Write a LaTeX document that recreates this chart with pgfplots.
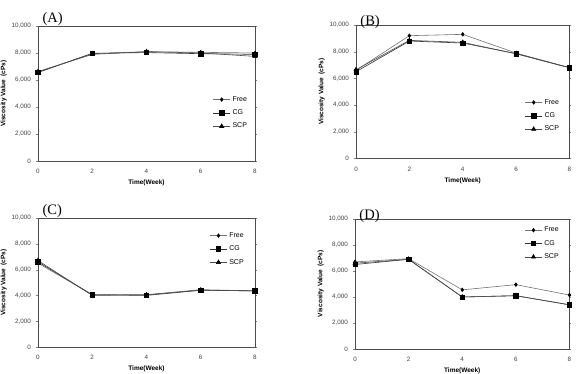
\documentclass[border=0pt]{standalone}
\usepackage{pgfplots}
\pgfplotsset{compat=1.18}
\usepackage{fontspec}
\setmainfont{Liberation Sans}
\newfontfamily\serifpanel{Liberation Serif}
\pgfplotsset{
  panel/.style={
    scale only axis, anchor=north west,
    xmin=0, xmax=8, ymin=0, ymax=10000,
    xtick={0,2,4,6,8}, ytick={0,2000,4000,6000,8000,10000},
    scaled y ticks=false,
    /pgf/number format/.cd, 1000 sep={,}, assume math mode=true, /pgfplots/.cd,
    tick label style={font=\fontsize{6.3}{7}\selectfont, text=black!75},
    xticklabel style={yshift=-3pt},
    yticklabel style={xshift=-1.5pt},
    tick align=outside, major tick length=2pt,
    xtick style={draw=none},
    axis line style={black!70, line width=0.6pt},
    xlabel={\textbf{Time(Week)}},
    ylabel={\textbf{Viscosity Value\enspace(cPs)}},
    label style={font=\fontsize{6.5}{7}\selectfont},
    xlabel style={yshift=1pt},
    ylabel style={yshift=-2pt},
    clip=false,
    legend cell align=left,
    legend style={draw=none, fill=none, font=\fontsize{7}{7}\selectfont, row sep=3pt, inner sep=0pt},
    free/.style={color=black!55, line width=0.6pt, mark=diamond*, mark size=1.8pt, mark options={fill=black, draw=black}},
    cg/.style={color=black!80, line width=0.6pt, mark=square*, mark size=2.2pt, mark options={fill=black, draw=black}},
    scp/.style={color=black!70, line width=0.6pt, mark=triangle*, mark size=2.4pt, mark options={fill=black, draw=black}},
  }
}
\begin{document}
\begin{tikzpicture}
\path[use as bounding box] (0pt,0pt) rectangle (576pt,-373pt);
% (A)
\begin{axis}[panel, at={(38pt,-26pt)}, width=217pt, height=135pt,
  legend style={at={(0.805,0.495)}, anchor=north west}]
\addplot[free] coordinates {(0,6600) (2,7950) (4,8100) (6,8050) (8,8000)};
\addplot[cg] coordinates {(0,6550) (2,7980) (4,8030) (6,7950) (8,7900)};
\addplot[scp] coordinates {(0,6620) (2,7900) (4,8100) (6,8000) (8,7750)};
\legend{Free,CG,SCP}
\node[font=\serifpanel\fontsize{14.5}{14}\selectfont, anchor=south west, inner sep=0pt] at (rel axis cs:0.02,1.0) {(A)};
\end{axis}
% (B)
\begin{axis}[panel, at={(356pt,-25pt)}, width=213.5pt, height=133.5pt,
  legend style={at={(0.79,0.46)}, anchor=north west}]
\addplot[free] coordinates {(0,6600) (2,9200) (4,9300) (6,7900) (8,6800)};
\addplot[cg] coordinates {(0,6500) (2,8800) (4,8650) (6,7850) (8,6800)};
\addplot[scp] coordinates {(0,6650) (2,8850) (4,8700) (6,7850) (8,6800)};
\legend{Free,CG,SCP}
\node[font=\serifpanel\fontsize{14.5}{14}\selectfont, anchor=south west, inner sep=0pt] at (rel axis cs:0.02,0.97) {(B)};
\end{axis}
% (C)
\begin{axis}[panel, at={(38pt,-218pt)}, width=217pt, height=129pt,
  legend style={at={(0.79,0.905)}, anchor=north west}]
\addplot[free] coordinates {(0,6500) (2,4050) (4,4050) (6,4450) (8,4350)};
\addplot[cg] coordinates {(0,6600) (2,4050) (4,4000) (6,4400) (8,4350)};
\addplot[scp] coordinates {(0,6700) (2,4000) (4,4050) (6,4400) (8,4350)};
\legend{Free,CG,SCP}
\node[font=\serifpanel\fontsize{14.5}{14}\selectfont, anchor=south west, inner sep=0pt] at (rel axis cs:0.02,1.0) {(C)};
\end{axis}
% (D)
\begin{axis}[panel, at={(355pt,-219pt)}, width=214.5pt, height=130pt,
  legend style={at={(0.79,0.955)}, anchor=north west}]
\addplot[free] coordinates {(0,6700) (2,6950) (4,4550) (6,4950) (8,4150)};
\addplot[cg] coordinates {(0,6500) (2,6900) (4,4000) (6,4100) (8,3400)};
\addplot[scp] coordinates {(0,6600) (2,6900) (4,4000) (6,4100) (8,3400)};
\legend{Free,CG,SCP}
\node[font=\serifpanel\fontsize{14.5}{14}\selectfont, anchor=south west, inner sep=0pt] at (rel axis cs:0.02,0.97) {(D)};
\end{axis}
\end{tikzpicture}
\end{document}
